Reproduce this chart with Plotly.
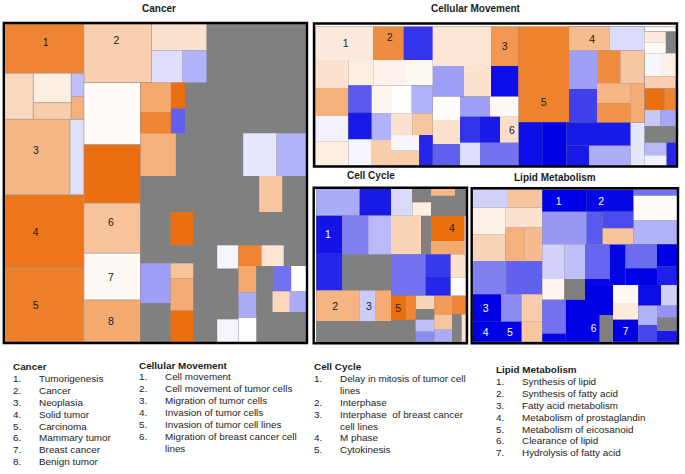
import plotly.graph_objects as go

W, H = 685, 474
N = None

# Each panel: nesting depth, relative share of the parent, activation score (None = no score, grey)
cancer_depth = [1,2,2,3,3,4,4,3,4,4,2,3,3,2,2,
                1,2,3,3,4,4,5,5,3,
                2,3,4,4,4,4,4,
                3,4,5,6,6,5,6,6,5,
                4,5,5,5,5,
                4,5,5,5,
                4,5,5,5,
                4,5,6,6,6,5,6,6,6,6,5,5,6,6,6,
                5,6,7,7,7,6,7,8,8,8,7,8,9,9,9,8,9,9,9,8]
cancer_share = [238,148,138,86,114,88,50,38,70,68,226,196,42,221,221,
                668,176,203,165,80,96,92,73,300,
                778,170,186,176,150,140,126,
                498,152,91,88,64,42,78,74,365,
                128,106,202,100,90,
                108,356,70,72,
                100,90,68,340,
                290,90,54,120,116,68,54,45,97,94,72,64,70,152,68,
                204,62,69,67,68,228,54,80,76,72,150,76,52,52,46,62,48,52,50,90]
cancer_score = [N,.85,N,.27,N,.12,.35,N,-.25,.55,N,.5,-.12,.95,.88,
                N,N,.33,N,.2,N,-.13,-.3,N,
                N,N,.03,1,.42,.04,.6,
                N,N,N,.6,.85,N,1,-.62,N,
                N,.55,N,-.1,-.3,
                N,N,.4,N,
                N,N,1,N,
                N,N,N,-.38,N,N,N,.42,.58,1,N,N,-.04,N,-.04,
                N,N,.85,.18,N,N,N,.6,-.33,0,N,N,N,-.55,0,N,N,.27,-.33,N]
cancer_numbered = [1,17,11,13,14,28,29,30]

movement_depth = [1,2,3,3,3,2,3,4,4,4,4,3,4,5,5,5,4,5,6,6,6,5,6,6,6,5,6,7,7,6,7,7,6,7,8,8,7,
                  1,2,3,3,2,3,3,3,2,3,4,4,4,3,4,5,5,4,5,5,5,4,5,5,
                  1,2,3,3,4,5,5,4,5,6,6,5,6,7,7,6,7,8,8,7,2,3,3,3,4,4,5,5,3,
                  1,2,2,3,4,4,3,2,3,3,2,2,3,3,2,3,3,2,2,3,4,4,3]
movement_share = [351,100,172,92,87,317,98,84,84,76,73,253,76,75,95,83,241,70,82,80,79,58,84,80,77,125,84,62,63,65,64,61,92,84,47,45,41,
                  257,118,175,82,92,94,81,82,207,82,70,72,65,175,60,90,85,78,60,60,55,69,60,115,
                  378,287,152,226,72,122,104,215,84,115,100,142,98,70,72,117,100,60,57,42,130,72,72,192,70,60,68,124,42,
                  94,15,65,64,33,32,30,68,50,44,38,64,60,34,48,48,46,50,69,66,38,31,28]
movement_score = [N,N,.15,.8,-.8,N,N,.2,.55,-.05,.12,N,N,.12,.08,.05,N,N,-.65,-.9,-.04,N,.07,-.3,.35,N,N,0,-.3,N,.2,.4,N,N,-.04,.35,-.85,
                  N,N,.18,.72,N,-.38,.2,-.95,N,N,.02,.2,-.62,N,N,-.38,.05,N,-.8,-.9,.22,N,-.13,-.55,
                  N,N,.87,N,N,.47,-.14,N,N,-.38,-.75,N,N,.8,.4,N,N,.5,.75,.58,N,-.95,-1,N,-.9,N,-.9,-.32,-.1,
                  N,.04,N,N,.15,.02,N,N,-.03,.1,.33,N,1,.85,N,-.22,-.35,N,N,N,-.28,-.05,-.85]
movement_numbered = [2,3,40,66,63,57]

cycle_depth = [1,2,3,3,2,3,4,4,3,4,5,5,4,2,3,3,3,2,
               1,2,3,3,4,4,3,4,5,5,4,2,3,3,3,4,4,3,2,3,3,4,4,3,4,4,
               2,3,4,5,5,4,3,4,4,4,4,3,4,4,4,3,4,4,5,5]
cycle_share = [224,81,130,94,224,78,112,112,146,116,78,68,108,92,130,48,46,62,
               224,81,64,56,41,40,104,21,72,32,60,116,90,30,100,76,40,4,124,104,75,67,57,45,70,54,
               138,74,72,44,30,66,56,40,32,36,30,54,58,44,36,40,56,82,28,12]
cycle_score = [N,N,-.33,-.9,N,N,-.92,-.85,N,N,-.5,-.27,N,N,.52,-.2,.58,N,
               N,N,-.15,N,N,.12,N,N,.5,N,N,N,.3,N,N,1,.6,.1,N,-.55,N,-.78,-.85,N,.2,0,
               N,N,N,1,.85,N,N,.3,N,-.25,-.45,N,.7,.4,-.33,N,.85,N,N,.2]
cycle_numbered = [6,14,15,33,47]

lipid_depth = [1,2,3,3,2,3,4,4,3,4,4,5,5,2,3,3,2,3,4,4,3,4,4,3,4,4,
               1,2,3,4,5,5,4,5,5,5,6,6,3,4,4,4,
               2,3,4,5,6,6,5,6,6,4,5,6,6,5,
               3,4,5,6,6,5,5,6,6,5,6,6,
               4,5,6,6,7,7,5,6,6,6,5,6,7,7,6,7,8,8,7,8,8,8]
lipid_share = [208,54,102,106,160,98,80,80,110,60,100,56,54,100,100,108,142,84,82,60,62,82,60,62,82,60,
               404,164,273,66,133,140,98,133,48,92,50,48,131,18,74,72,
               292,128,166,66,104,62,62,104,62,126,70,102,24,58,
               276,122,74,104,18,48,94,72,50,60,66,56,
               170,84,90,80,44,40,76,54,50,66,116,62,68,48,108,56,58,50,60,36,40,32]
lipid_score = [N,N,-.18,.42,N,N,.1,.3,N,.2,N,.55,.48,N,-.5,-.62,N,N,-1,-1,N,-.45,-1,N,.35,.4,
               N,N,N,N,-1,-.97,N,-.4,-.65,N,-.7,.42,N,-.55,.03,-.3,
               N,N,N,N,-.18,.07,N,-.25,N,N,N,-.55,-.98,-1,
               N,N,N,-.6,-.98,-.98,N,-.58,-1,N,-1,-.88,
               N,N,-1,N,-1,N,N,.04,.14,-1,N,N,-.95,-.18,N,N,-.3,-.72,N,-.42,N,-.9]
lipid_numbered = [30,31,18,19,22,72,77]

panel_titles = ["Cancer", "Cellular Movement", "Cell Cycle", "Lipid Metabolism"]
cancer_terms = ["Tumorigenesis","Cancer","Neoplasia","Solid tumor","Carcinoma","Mammary tumor","Breast cancer","Benign tumor"]
movement_terms = ["Cell movement","Cell movement of tumor cells","Migration of tumor cells","Invasion of tumor cells",
                  "Invasion of tumor cell lines","Migration of breast cancer cell\nlines"]
cycle_terms = ["Delay in mitosis of tumor cell\nlines","Interphase","Interphase  of breast cancer\ncell lines","M phase","Cytokinesis"]
lipid_terms = ["Synthesis of lipid","Synthesis of fatty acid","Fatty acid metabolism","Metabolism of prostaglandin",
               "Metabolism of eicosanoid","Clearance of lipid","Hydrolysis of fatty acid"]

GREY = "#808080"
NB = "\u00a0"
def colour(z):
    if z is None:
        return GREY
    t = abs(z)
    end = (236, 111, 15) if z > 0 else (0, 0, 230)
    r, g, b = (round(255 + (e - 255) * t) for e in end)
    return f"rgb({r},{g},{b})"

def leaf_values(depth, share):
    """Turn shares-of-parent into leaf areas; parents are derived from the depth list."""
    parents, stack = [], {0: "root"}
    frac = {"root": 1.0}
    sib = {}
    ids = [f"n{i}" for i in range(len(depth))]
    for i, d in enumerate(depth):
        p = stack[d - 1]
        parents.append(p)
        stack[d] = ids[i]
        sib[p] = sib.get(p, 0) + share[i]
    for i in range(len(depth)):
        frac[ids[i]] = frac[parents[i]] * share[i] / sib[parents[i]]
    has_child = set(parents)
    vals = [frac[n] * 1e6 if n not in has_child else 0 for n in ids]
    return ids, parents, vals

def dressed(num, dx, dy):
    """Number text padded with blank characters/lines so it sits off-centre in its tile."""
    pads = NB * round(abs(dx) / 1.45)
    s = pads + num if dx > 0 else num + pads
    lines = "<br>".join([NB] * round(abs(dy) / 6.3))
    if lines:
        s = lines + "<br>" + s if dy > 0 else s + "<br>" + lines
    return s

def treemap(depth, share, score, numbered, box, outlined, nudges):
    assert len(depth) == len(share) == len(score), (len(depth), len(share), len(score))
    ids, parents, vals = leaf_values(depth, share)
    text = [""] * len(ids)
    tcolor = ["#222222"] * len(ids)
    for k, i in enumerate(numbered):
        text[i] = dressed(str(k + 1), *nudges[k])
        if score[i] is not None and score[i] < -.7:
            tcolor[i] = "#ffffff"
    colors = [colour(z) for z in score]
    widths = [0.6 if (outlined and z is not None and d <= outlined) else 0 for z, d in zip(score, depth)]
    x0, y0, x1, y1 = box
    return go.Treemap(
        ids=["root"] + ids, labels=["root"] + ids, parents=[""] + parents, values=[0] + vals,
        branchvalues="remainder", sort=False, maxdepth=-1,
        text=[""] + text, textinfo="text", textposition="middle center",
        textfont=dict(family="Liberation Sans", size=10.5, color=["#222222"] + tcolor),
        marker=dict(colors=[GREY] + colors, depthfade=False, pad=dict(t=0, l=0, r=0, b=0),
                    line=dict(width=[0] + widths, color="#a8a098")),
        tiling=dict(packing="slice-dice", pad=0),
        pathbar=dict(visible=False), root=dict(color=GREY),
        hoverinfo="skip",
        domain=dict(x=[x0 / W, x1 / W], y=[1 - y1 / H, 1 - y0 / H]),
    )

fig = go.Figure()
fig.add_trace(treemap(cancer_depth, cancer_share, cancer_score, cancer_numbered, (4.7, 24, 306.5, 342), 4,
                      [(1,-9),(-1,-13),(-1,-5),(-8,0),(-8,-3),(-2,-4),(-2,-3),(-2,-2)]))
fig.add_trace(treemap(movement_depth, movement_share, movement_score, movement_numbered, (315.7, 26.7, 675.7, 165.7), 2,
                      [(1,-3),(1,-4),(0,-2),(3,0),(0,23),(3,0)]))
fig.add_trace(treemap(cycle_depth, cycle_share, cycle_score, cycle_numbered, (316.3, 188.7, 465.7, 341.7), 0,
                      [(-1,0),(-3,0),(1,0),(4,0),(0,0)]))
fig.add_trace(treemap(lipid_depth, lipid_share, lipid_score, lipid_numbered, (473, 189.7, 677, 341.7), 0,
                      [(-6,2),(-9,2),(-1,-3),(-2,-3),(-1,-3),(1,0),(0,-3)]))

shapes = []
for (a, b, c, d) in [(3.8, 23, 307, 343), (314, 23.5, 677, 166.5), (313.7, 187.7, 467, 343.3), (471.7, 188.3, 678, 343.3)]:
    shapes.append(dict(type="rect", xref="paper", yref="paper", x0=a / W, x1=c / W, y0=1 - b / H, y1=1 - d / H,
                       line=dict(color="#000000", width=2.4), fillcolor="rgba(0,0,0,0)", layer="above"))

FONT = "Liberation Sans"
ann = []
def put(x, y, s, bold=False, size=9.9, anchor="left"):
    ann.append(dict(x=(x - 2 if anchor == "left" else x) / W, y=1 - y / H, xref="paper", yref="paper",
                    text=f"<b>{s}</b>" if bold else s,
                    showarrow=False, xanchor=anchor, yanchor="middle",
                    font=dict(family=FONT, size=size, color="#1c1c1c")))

for s, x, y in zip(panel_titles, (159, 476, 371, 555), (9, 9, 175, 177)):
    put(x, y, s, bold=True, size=10, anchor="center")

def legend(title, terms, x, y, step=11.9):
    put(x, y, title, bold=True)
    row = 1
    for k, term in enumerate(terms):
        put(x, y + row * step, f"{k + 1}.")
        for ln in term.split("\n"):
            put(x + 26, y + row * step, ln)
            row += 1

legend("Cancer", cancer_terms, 13, 366.5)
legend("Cellular Movement", movement_terms, 139, 365)
legend("Cell Cycle", cycle_terms, 314, 366.5)
legend("Lipid Metabolism", lipid_terms, 496, 369.5)

fig.update_layout(width=W, height=H, margin=dict(l=0, r=0, t=0, b=0), paper_bgcolor="#ffffff",
                  shapes=shapes, annotations=ann, showlegend=False)
fig.write_html("out.html", config=dict(displayModeBar=False),
               post_script="document.body.style.margin='0';document.documentElement.style.overflow='hidden';")
